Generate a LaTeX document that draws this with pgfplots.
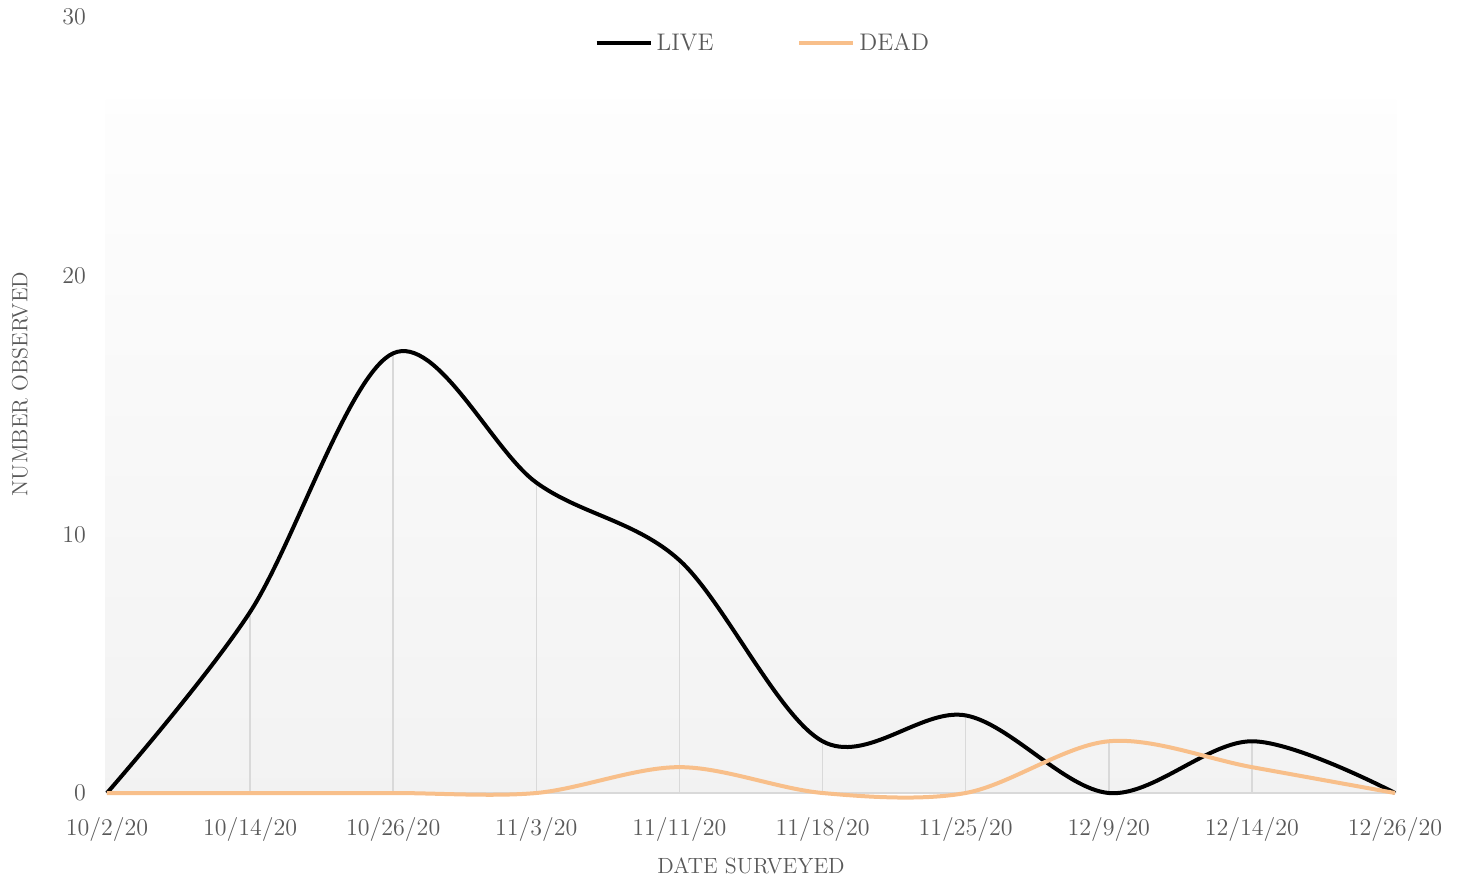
\documentclass[border=0pt]{standalone}
\usepackage{pgfplots}
\pgfplotsset{compat=1.18}
\definecolor{txt}{HTML}{595959}
\definecolor{deadc}{HTML}{F8BF8A}
\definecolor{dropc}{HTML}{D9D9D9}
\begin{document}
\begin{tikzpicture}
\begin{axis}[
  at={(0,0)}, anchor=origin,
  scale only axis, width=644pt, height=388pt,
  xmin=0, xmax=9, ymin=0, ymax=30,
  xtick={0,...,9},
  xticklabels={10/2/20,10/14/20,10/26/20,11/3/20,11/11/20,11/18/20,11/25/20,12/9/20,12/14/20,12/26/20},
  ytick={0,10,20,30},
  axis line style={draw=none},
  axis x line*=bottom, axis y line*=left,
  major tick length=0pt,
  tick label style={font=\fontsize{12}{14}\selectfont, text=txt},
  xticklabel style={yshift=-8.5pt},
  yticklabel style={xshift=-7pt},
  xlabel={DATE SURVEYED}, ylabel={NUMBER OBSERVED},
  label style={font=\fontsize{11}{13}\selectfont, text=txt},
  xlabel style={at={(axis description cs:0.5,0)}, anchor=north, yshift=-29pt},
  ylabel style={at={(axis description cs:0,0.527)}, anchor=south, yshift=36pt},
  legend style={draw=none, fill=none, at={(0.51,0.966)}, anchor=center,
    font=\fontsize{12}{14}\selectfont, text=txt, legend columns=2,
    /tikz/every even column/.append style={column sep=40pt}},
  legend image code/.code={\draw[#1, line width=2pt] (0pt,0pt) -- (27pt,0pt);},
  clip=false,
]
\fill[top color=black!0.5, bottom color=black!5, draw=none] (axis cs:-0.01,0) rectangle (axis cs:9.01,26.8);
\addplot[ycomb, dropc, line width=0.8pt, forget plot] coordinates {
(0,0) (1,7) (2,17) (3,12) (4,9) (5,2) (6,3) (7,2) (8,2) (9,0)};
\draw[dropc, line width=0.8pt] (axis cs:0,0) -- (axis cs:9,0);
\addplot[black, line width=2pt, smooth, tension=0.55] coordinates {
(0,0) (1,7) (2,17) (3,12) (4,9) (5,2) (6,3) (7,0) (8,2) (9,0)};
\addlegendentry{LIVE}
\addplot[deadc, line width=2pt, smooth, tension=0.55] coordinates {
(0,0) (1,0) (2,0) (3,0) (4,1) (5,0) (6,0) (7,2) (8,1) (9,0)};
\addlegendentry{DEAD}
\end{axis}
\pgfresetboundingbox
\path (-53.5pt,-43pt) rectangle (677pt,396.5pt);
\end{tikzpicture}
\end{document}
